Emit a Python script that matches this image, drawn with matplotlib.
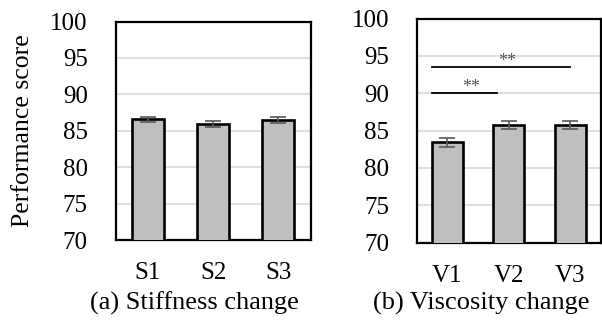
import matplotlib
matplotlib.use("Agg")
import matplotlib.pyplot as plt

plt.rcParams['font.family'] = ['Liberation Serif', 'DejaVu Serif']

stiff_labels = ["S1", "S2", "S3"]
stiff_scores = [86.55, 85.95, 86.5]
stiff_err = [0.4, 0.45, 0.4]

visc_labels = ["V1", "V2", "V3"]
visc_scores = [83.45, 85.75, 85.75]
visc_err = [0.6, 0.55, 0.55]

# significance brackets: (x start, x end, y, label x, label)
sig_pairs = [(-0.25, 0.8, 90.0, 0.38, "**"), (-0.25, 2.0, 93.55, 0.97, "**")]

yticks = [70, 75, 80, 85, 90, 95, 100]

W, H = 602, 326
fig = plt.figure(figsize=(W / 100, H / 100), dpi=100)


def px_axes(x0, y0, x1, y1):
    return fig.add_axes([x0 / W, 1 - y1 / H, (x1 - x0) / W, (y1 - y0) / H])


def draw_panel(ax, labels, scores, errs):
    x = range(len(labels))
    ax.bar(x, scores, width=0.5, color="#bfbfbf", edgecolor="black",
           linewidth=1.9, zorder=3)
    ax.errorbar(x, scores, yerr=errs, fmt="none", ecolor="#595959",
                elinewidth=1.2, capsize=5.5, capthick=1.2, zorder=4)
    ax.set_ylim(70, 100)
    ax.set_xlim(-0.5, len(labels) - 0.5)
    ax.set_yticks(yticks)
    ax.set_xticks(list(x))
    ax.set_xticklabels(labels)
    ax.yaxis.grid(True, color="#d9d9d9", linewidth=1.2, zorder=0)
    ax.set_axisbelow(True)
    ax.tick_params(axis="y", length=0, labelsize=18, pad=20)
    ax.tick_params(axis="x", length=0, labelsize=18, pad=16)
    for s in ax.spines.values():
        s.set_linewidth(1.6)
        s.set_color("black")


ax1 = px_axes(115.5, 21.5, 310.7, 240)
draw_panel(ax1, stiff_labels, stiff_scores, stiff_err)
ax1.set_ylabel("Performance score", fontsize=18.5)
ax1.yaxis.set_label_coords(-0.42, 0.5)

ax2 = px_axes(416.7, 18.5, 601, 242.7)
draw_panel(ax2, visc_labels, visc_scores, visc_err)

fig.text(194 / W, 1 - 303 / H, "(a) Stiffness change", ha="center", va="center",
         fontsize=19)
fig.text(481 / W, 1 - 303 / H, "(b) Viscosity change", ha="center", va="center",
         fontsize=19)

for xs, xe, y, lx, lab in sig_pairs:
    ax2.plot([xs, xe], [y, y], color="black", linewidth=1.3, zorder=5)
    ax2.text(lx, y + 0.1, lab, ha="center", va="baseline",
             fontsize=13, color="#555555", zorder=5)

fig.savefig("out.png", dpi=100)
